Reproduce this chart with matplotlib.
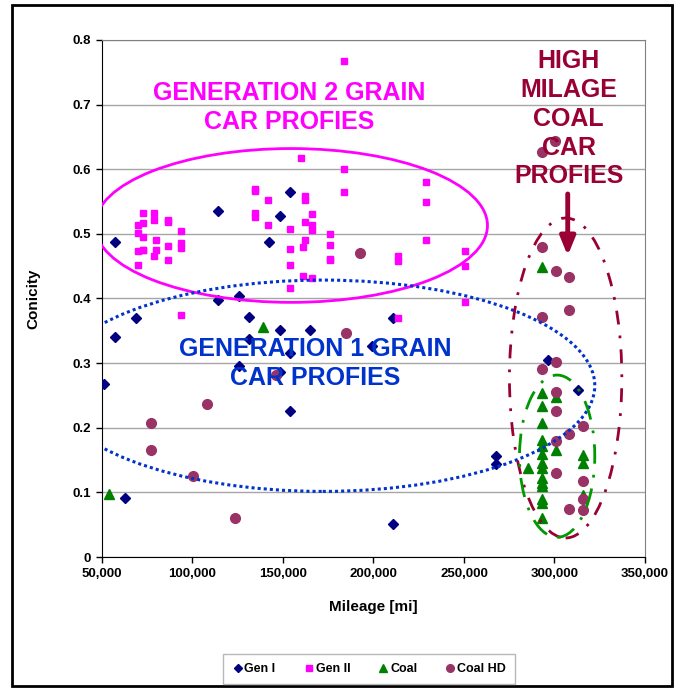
import matplotlib
matplotlib.use("Agg")
import matplotlib.pyplot as plt
from matplotlib.patches import Ellipse, Rectangle
from matplotlib.ticker import FuncFormatter, MultipleLocator

plt.rcParams['font.family'] = ['Liberation Sans', 'DejaVu Sans']

# --- dados ---
gen1_x = [51300, 57000, 57200, 62900, 68700, 114200, 114200, 125700, 125800, 131400,
          131400, 142500, 148200, 148200, 148200, 153900, 153900, 153900, 165200, 199200,
          210800, 210800, 267600, 267600, 296300, 313300]
gen1_y = [0.268, 0.341, 0.488, 0.092, 0.370, 0.536, 0.398, 0.404, 0.296, 0.372,
          0.337, 0.488, 0.528, 0.351, 0.287, 0.565, 0.316, 0.226, 0.351, 0.327,
          0.370, 0.051, 0.157, 0.144, 0.305, 0.258]

gen2_x = [69800, 69800, 69800, 69800, 72700, 72700, 72700, 72700, 72700,
          78700, 78700, 78700, 80100, 80100, 86200, 86200, 86200, 86200,
          93800, 93800, 93800, 93800,
          134300, 134300, 134300, 134300, 141700, 141700,
          154100, 154100, 154100, 154100, 160200, 160800, 160800,
          162200, 162200, 162200, 162200, 166100, 166100, 166100, 166100,
          176100, 176100, 176100, 176100,
          183500, 183500, 183500, 213600, 213600, 213400,
          229300, 229300, 229300, 250800, 250800, 250800]
gen2_y = [0.514, 0.502, 0.474, 0.452, 0.533, 0.517, 0.495, 0.475, 0.475,
          0.533, 0.521, 0.465, 0.490, 0.475, 0.522, 0.518, 0.481, 0.460,
          0.504, 0.486, 0.478, 0.374,
          0.570, 0.566, 0.533, 0.526, 0.553, 0.513,
          0.508, 0.477, 0.452, 0.416, 0.617, 0.479, 0.435,
          0.558, 0.553, 0.519, 0.490, 0.531, 0.513, 0.506, 0.431,
          0.500, 0.483, 0.461, 0.460,
          0.767, 0.600, 0.565, 0.466, 0.458, 0.370,
          0.581, 0.549, 0.490, 0.474, 0.450, 0.394]

coal_x = [54000, 138700, 285200,
          292900, 292900, 292900, 292900, 292900, 292900, 292900, 292900,
          292900, 292900, 292900, 292900, 292900, 292900, 292900,
          300700, 300700, 316000, 316000, 316000]
coal_y = [0.098, 0.356, 0.137,
          0.449, 0.253, 0.233, 0.207, 0.181, 0.172, 0.160, 0.145,
          0.138, 0.122, 0.114, 0.110, 0.090, 0.084, 0.061,
          0.248, 0.166, 0.158, 0.146, 0.096]

coalhd_x = [77200, 77200, 100500, 107800, 123400, 146300, 184900, 192700,
            292900, 300300, 292900, 300700, 308300, 308300, 292900, 300700, 292900,
            300700, 300700, 308300, 316000, 300700, 300700, 316000, 316000, 308300, 316000]
coalhd_y = [0.207, 0.165, 0.126, 0.236, 0.061, 0.281, 0.346, 0.471,
            0.627, 0.644, 0.480, 0.442, 0.433, 0.382, 0.372, 0.301, 0.291,
            0.256, 0.226, 0.191, 0.202, 0.180, 0.130, 0.118, 0.090, 0.075, 0.073]

x_ticks = [50000, 100000, 150000, 200000, 250000, 300000, 350000]

# --- figura ---
fig = plt.figure(figsize=(6.81, 6.88), dpi=100)
ax = fig.add_axes([0.1498, 0.1904, 0.947 - 0.1498, 0.9419 - 0.1904])

ax.plot(gen1_x, gen1_y, linestyle='none', marker='D', ms=5.5, color='#000080', label='Gen I', zorder=3)
ax.plot(gen2_x, gen2_y, linestyle='none', marker='s', ms=5, color='#FF00FF', label='Gen II', zorder=3)
ax.plot(coal_x, coal_y, linestyle='none', marker='^', ms=7, color='#008000', label='Coal', zorder=3)
ax.plot(coalhd_x, coalhd_y, linestyle='none', marker='o', ms=7, color='#993366', label='Coal HD', zorder=3)

# elipses
ax.add_patch(Ellipse((154550, 0.513), 216900, 0.238, fill=False, edgecolor='#FF00FF', lw=2, zorder=4))
ax.add_patch(Ellipse((172000, 0.265), 300600, 0.327, fill=False, edgecolor='#0033CC', lw=2.2,
                     linestyle=(0, (1, 1)), zorder=4))
ax.add_patch(Ellipse((306200, 0.277), 62100, 0.495, fill=False, edgecolor='#990033', lw=2,
                     linestyle=(0, (5, 4, 1, 4)), zorder=4))
ax.add_patch(Ellipse((301500, 0.156), 41600, 0.251, fill=False, edgecolor='#009900', lw=2,
                     linestyle=(0, (7, 4, 1, 4)), zorder=4))

# textos
ax.text(153200, 0.696, 'GENERATION 2 GRAIN\nCAR PROFIES', color='#FF00FF', fontsize=18,
        fontweight='bold', ha='center', va='center', linespacing=1.25, zorder=5)
ax.text(167600, 0.2995, 'GENERATION 1 GRAIN\nCAR PROFIES', color='#0033CC', fontsize=18,
        fontweight='bold', ha='center', va='center', linespacing=1.25, zorder=5)
ax.text(307900, 0.678, 'HIGH\nMILAGE\nCOAL\nCAR\nPROFIES', color='#990033', fontsize=18,
        fontweight='bold', ha='center', va='center', linespacing=1.25, zorder=5)
ax.annotate('', xy=(307350, 0.462), xytext=(307350, 0.566),
            arrowprops=dict(arrowstyle='-|>,head_width=0.45,head_length=1.1', color='#990033', lw=3.5),
            zorder=5)

# eixos
ax.set_xlim(50000, 350000)
ax.set_ylim(0, 0.8)
ax.set_xticks(x_ticks)
ax.yaxis.set_major_locator(MultipleLocator(0.1))
ax.xaxis.set_major_formatter(FuncFormatter(lambda v, p: f'{int(v):,}'))
ax.yaxis.set_major_formatter(FuncFormatter(lambda v, p: '0' if abs(v) < 1e-9 else f'{v:.1f}'))
ax.grid(axis='y', color='#A6A6A6', lw=1)
ax.set_axisbelow(True)
ax.tick_params(axis='both', direction='out', length=4, width=1, labelsize=9.5, pad=4)
for lbl in ax.get_xticklabels() + ax.get_yticklabels():
    lbl.set_fontweight('bold')
ax.spines['left'].set_color('black')
ax.spines['bottom'].set_color('black')
ax.spines['top'].set_color('#808080')
ax.spines['right'].set_color('#808080')

ax.set_xlabel('Mileage [mi]', fontsize=11, fontweight='bold', labelpad=14)
ax.set_ylabel('Conicity', fontsize=11, fontweight='bold', labelpad=23)

leg = fig.legend(loc='center', bbox_to_anchor=(0.542, 0.0276), ncol=4, frameon=True, fancybox=False,
                 prop={'size': 9, 'weight': 'bold'}, handletextpad=0.1, columnspacing=2.2,
                 handlelength=0.9, borderpad=0.7)
leg.get_frame().set_edgecolor('#A6A6A6')
leg.get_frame().set_linewidth(1)
for h, s in zip(leg.legend_handles, [4.5, 5, 5.5, 5.5]):
    h.set_markersize(s)

# borda externa
fig.patches.append(Rectangle((12 / 681, 1 - 686 / 688), 660 / 681, 681 / 688, transform=fig.transFigure,
                             fill=False, edgecolor='black', lw=2))

plt.savefig('out.png', dpi=100)
